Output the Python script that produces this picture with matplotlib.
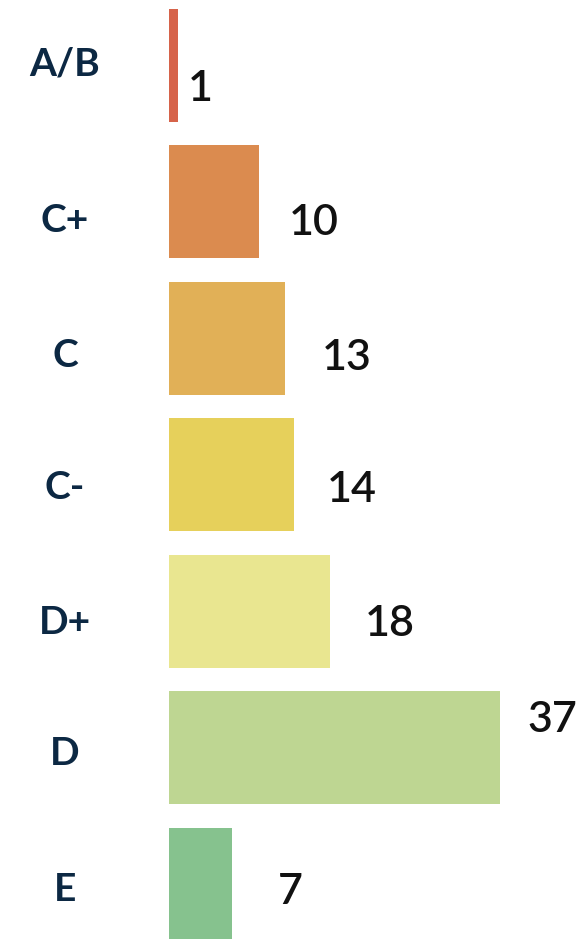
import matplotlib
matplotlib.use("Agg")
import matplotlib.pyplot as plt
import matplotlib.transforms as mtransforms

grades = ["A/B", "C+", "C", "C-", "D+", "D", "E"]
counts = [1, 10, 13, 14, 18, 37, 7]
colors = ["#d6634a", "#db8b4f", "#e1b057", "#e6d05b", "#e9e690", "#bed692", "#86c28e"]

# label nudges in pixels (right, down)
label_dx = [10, 30, 36, 32, 35, 27, 46]
label_dy = [20, 18, 16, 12, 9, -31, 4]
grade_dy = [-4, 16, 14, 10, 8, 3, 2]

W, H = 584, 939
fig = plt.figure(figsize=(W / 100, H / 100), dpi=100)
ax = fig.add_axes([169 / W, 0, 1 - 169 / W, 1])

pitch = 136.5
ypos = list(range(len(grades)))
ax.barh(ypos, counts, height=113 / pitch, color=colors, align="center")
ax.set_xlim(0, (W - 169) / 8.95)
ax.set_ylim((H - 65.5) / pitch, -65.5 / pitch)
ax.axis("off")

for i, c in enumerate(counts):
    ax.annotate(str(c), xy=(c, i), xytext=(label_dx[i], -label_dy[i]),
                textcoords="offset pixels", ha="left", va="center_baseline",
                fontsize=31, fontfamily="Lato", fontweight="semibold",
                color="#111111")

trans = mtransforms.blended_transform_factory(fig.transFigure, ax.transData)
for i, g in enumerate(grades):
    ax.annotate(g, xy=(65 / W, i), xycoords=trans, xytext=(0, -grade_dy[i]),
                textcoords="offset pixels", ha="center", va="center_baseline",
                fontsize=28, fontfamily="Lato", fontweight="bold",
                color="#0c2843")

fig.savefig("out.png", dpi=100)
